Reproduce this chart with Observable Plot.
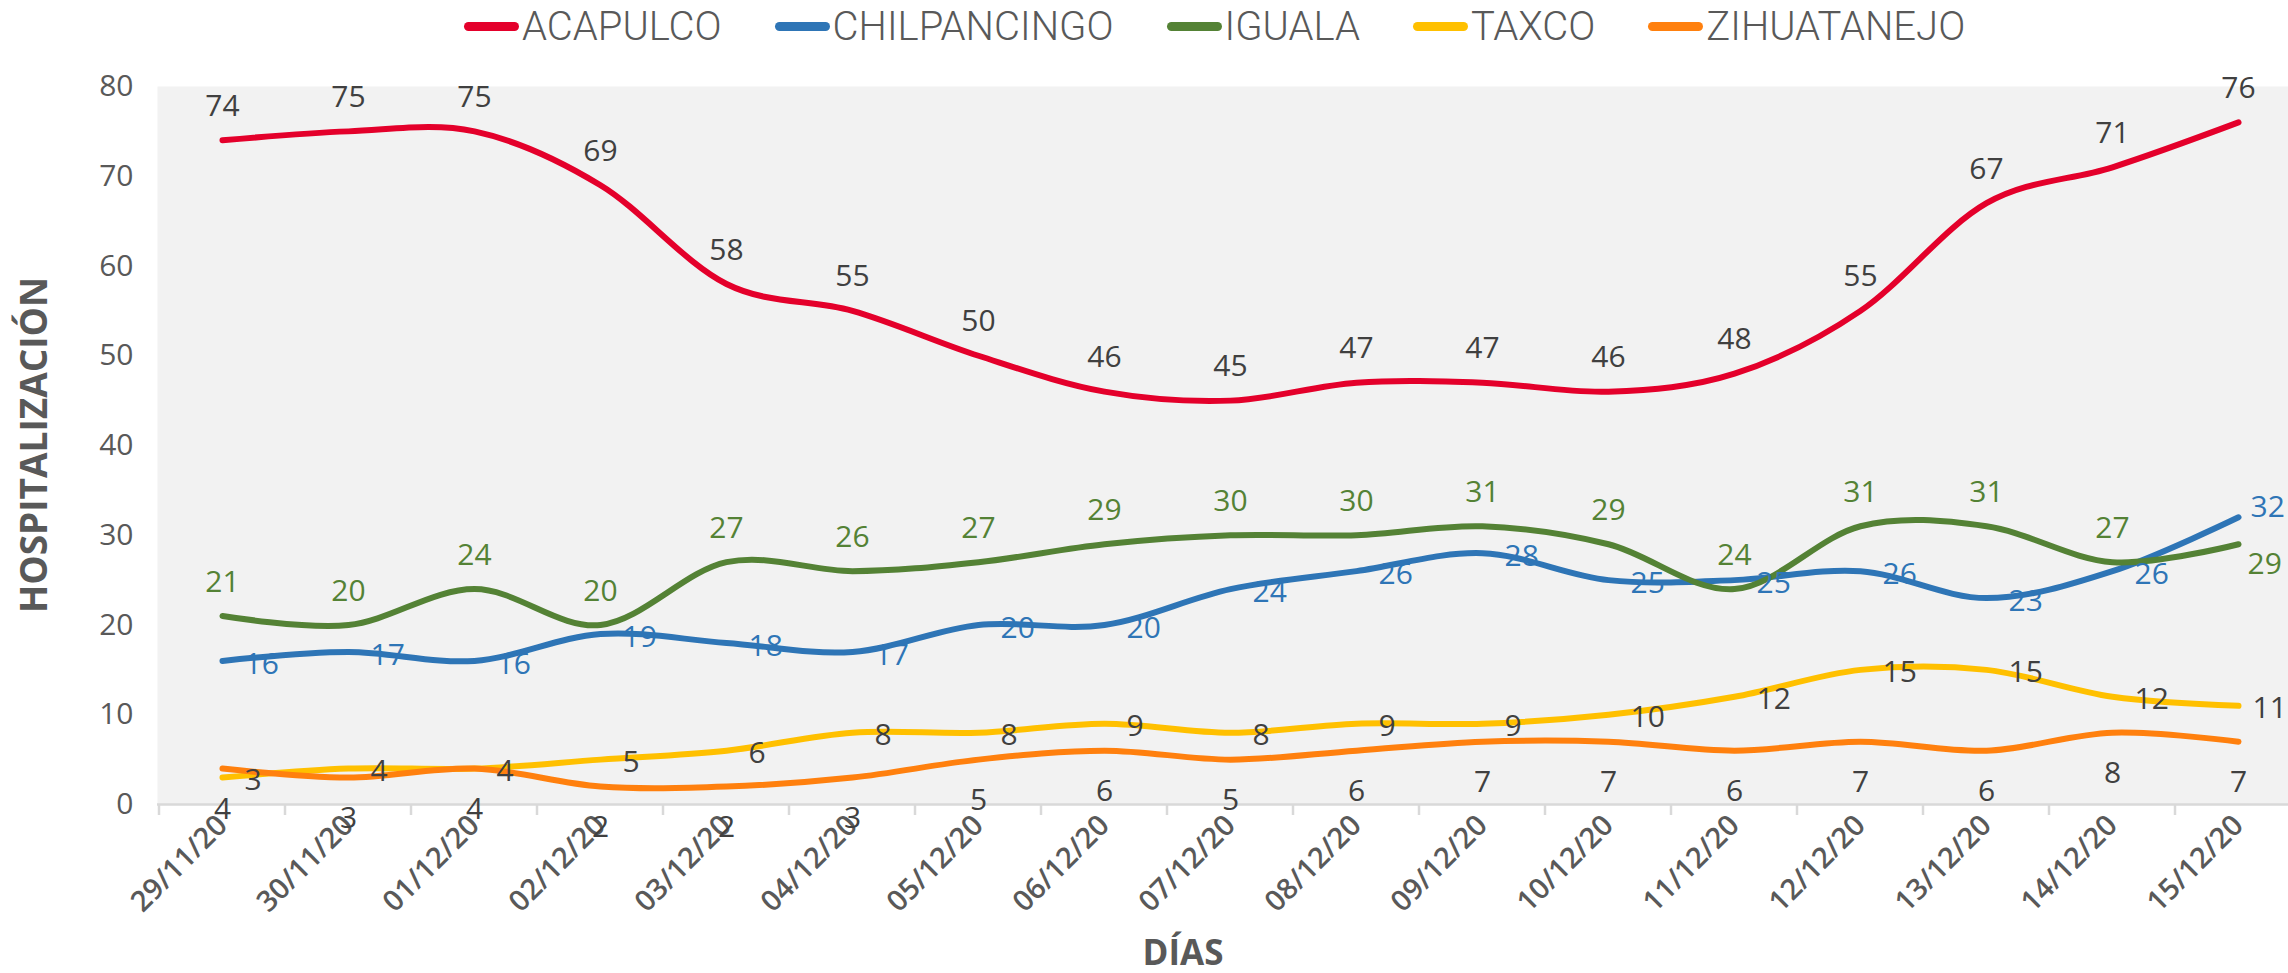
<!DOCTYPE html>
<html><head><meta charset="utf-8">
<script src="https://cdn.jsdelivr.net/npm/d3@7"></script>
<script src="https://cdn.jsdelivr.net/npm/@observablehq/plot@0.6"></script>
<style>
body{margin:0;background:#fff;width:2288px;height:973px;overflow:hidden;font-family:"Open Sans",sans-serif;}
#legend{height:52px;margin-bottom:8px;display:flex;align-items:center;padding-left:464px;font-family:Roboto,sans-serif;font-weight:300;font-size:40px;color:#595959;}
.item{display:flex;align-items:center;margin-right:53px;}
.swatch{width:55px;height:9px;border-radius:5px;margin-right:3px;}
#chart svg{display:block;}
</style></head><body>
<div id="legend"></div>
<div id="chart"></div>
<script>
const dates = ["29/11/20","30/11/20","01/12/20","02/12/20","03/12/20","04/12/20","05/12/20","06/12/20","07/12/20","08/12/20","09/12/20","10/12/20","11/12/20","12/12/20","13/12/20","14/12/20","15/12/20"];
const acapulco     = [74,75,75,69,58,55,50,46,45,47,47,46,48,55,67,71,76];
const chilpancingo = [16,17,16,19,18,17,20,20,24,26,28,25,25,26,23,26,32];
const iguala       = [21,20,24,20,27,26,27,29,30,30,31,29,24,31,31,27,29];
const taxco        = [3,4,4,5,6,8,8,9,8,9,9,10,12,15,15,12,11];
const zihuatanejo  = [4,3,4,2,2,3,5,6,5,6,7,7,6,7,6,8,7];
const seriesNames  = ["ACAPULCO","CHILPANCINGO","IGUALA","TAXCO","ZIHUATANEJO"];
const seriesValues = [acapulco, chilpancingo, iguala, taxco, zihuatanejo];
const yTicks = [0,10,20,30,40,50,60,70,80];

const lineColors  = ["#E4002B","#2E75B6","#548235","#FFC000","#FF800E"];
const labelColors = ["#404040","#2E75B6","#548235","#404040","#404040"];
const labelPos    = ["top","right","top","right","bottom"];

const rows = [];
seriesNames.forEach((s, k) => seriesValues[k].forEach((v, i) => rows.push({date: dates[i], series: s, value: v, i})));
const last = dates.length - 1;

// legend
const legend = d3.select("#legend");
seriesNames.forEach((s, k) => {
  const it = legend.append("div").attr("class", "item");
  it.append("div").attr("class", "swatch").style("background", lineColors[k]);
  it.append("span").text(s);
});

const offsets = {
  top:    {textAnchor: "middle", dx: 0,  dy: -34},
  right:  {textAnchor: "start",  dx: 22, dy: 3},
  bottom: {textAnchor: "middle", dx: 0,  dy: 41}
};
const special = {
  CHILPANCINGO: {textAnchor: "start", dx: 12, dy: -10},
  IGUALA:       {textAnchor: "start", dx: 9,  dy: 20},
  TAXCO:        {textAnchor: "start", dx: 14, dy: 3}
};

const textMarks = [];
seriesNames.forEach((s, k) => {
  const data = rows.filter(d => d.series === s);
  const o = offsets[labelPos[k]];
  const sp = special[s];
  const main = sp ? data.filter(d => d.i !== last) : data;
  textMarks.push(Plot.text(main, {x: "date", y: "value", text: d => String(d.value), fill: labelColors[k], fontSize: 30, ...o}));
  if (sp) textMarks.push(Plot.text(data.filter(d => d.i === last), {x: "date", y: "value", text: d => String(d.value), fill: labelColors[k], fontSize: 30, ...sp}));
});

const W = 2288, H = 913;
const chart = Plot.plot({
  width: W, height: H,
  marginLeft: 157, marginRight: 0, marginTop: 26, marginBottom: 169,
  style: {background: "transparent", fontFamily: "'Open Sans', sans-serif", overflow: "visible"},
  x: {type: "point", domain: dates, range: [157, 2303], padding: 0.5, label: null},
  y: {domain: [0, 80], label: null},
  color: {domain: seriesNames, range: lineColors},
  marks: [
    Plot.frame({fill: "#f2f2f2", stroke: "none"}),
    Plot.ruleY([0], {stroke: "#d9d9d9", strokeWidth: 2.5}),
    Plot.axisY({ticks: yTicks, tickSize: 0, tickPadding: 24, fontSize: 30, color: "#595959", label: null}),
    Plot.axisX({tickRotate: -45, tickSize: 0, tickPadding: 16, fontSize: 29, fontWeight: 600, color: "#595959", label: null}),
    Plot.line(rows, {x: "date", y: "value", z: "series", stroke: "series", strokeWidth: 6, curve: "cardinal", tension: 0, strokeLinecap: "round", strokeLinejoin: "round"}),
    ...textMarks
  ]
});
document.getElementById("chart").appendChild(chart);

// boundary tick marks + axis titles
const svg = d3.select(chart);
const xs = chart.scale("x"), ys = chart.scale("y");
const step = xs.apply(dates[1]) - xs.apply(dates[0]);
const y0 = ys.apply(0);
const g = svg.append("g").attr("stroke", "#d9d9d9").attr("stroke-width", 2.5);
for (let k = 0; k <= dates.length; k++) {
  const x = xs.apply(dates[0]) - step / 2 + k * step;
  g.append("line").attr("x1", x).attr("x2", x).attr("y1", y0).attr("y2", y0 + 11);
}
svg.append("text").text("HOSPITALIZACIÓN")
  .attr("transform", `translate(32,${385}) rotate(-90)`)
  .attr("text-anchor", "middle").attr("dominant-baseline", "central")
  .attr("font-size", 37).attr("font-weight", 700).attr("fill", "#595959").attr("font-family", "'Open Sans', sans-serif");
svg.append("text").text("DÍAS")
  .attr("x", 1183).attr("y", 905)
  .attr("text-anchor", "middle")
  .attr("font-size", 35).attr("font-weight", 700).attr("fill", "#595959").attr("font-family", "'Open Sans', sans-serif");
</script>
</body></html>
